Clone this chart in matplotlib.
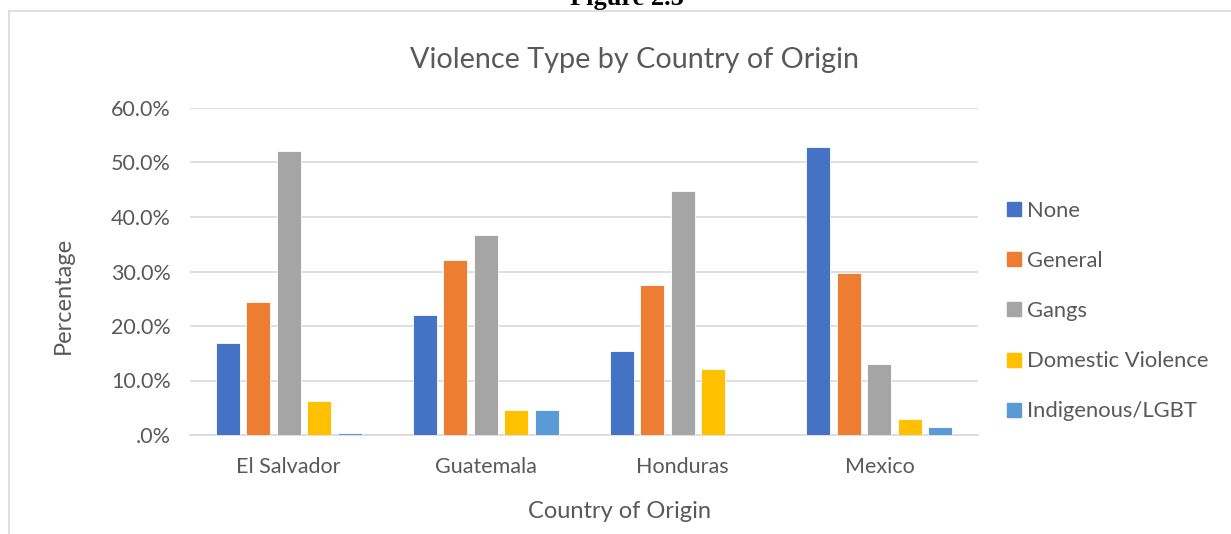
import matplotlib
matplotlib.use("Agg")
import matplotlib.pyplot as plt
import numpy as np
from matplotlib.lines import Line2D

countries = ["El Salvador", "Guatemala", "Honduras", "Mexico"]
series_names = ["None", "General", "Gangs", "Domestic Violence", "Indigenous/LGBT"]
none_vals = [16.9, 22.0, 15.5, 52.9]
general_vals = [24.4, 32.1, 27.6, 29.7]
gangs_vals = [52.1, 36.7, 44.8, 13.1]
domestic_vals = [6.2, 4.6, 12.1, 2.9]
indig_vals = [0.4, 4.6, 0.0, 1.4]
yticks = [0, 10, 20, 30, 40, 50, 60]
ytick_labels = [".0%", "10.0%", "20.0%", "30.0%", "40.0%", "50.0%", "60.0%"]
colors = ["#4472C4", "#ED7D31", "#A5A5A5", "#FFC000", "#5B9BD5"]

plt.rcParams['font.family'] = ['Lato', 'DejaVu Sans']
W, H = 1231, 534
fig = plt.figure(figsize=(W/100, H/100), dpi=100)

ax = fig.add_axes([190/W, 1-435/H, (978-190)/W, (435-108)/H])
data = [none_vals, general_vals, gangs_vals, domestic_vals, indig_vals]
x = np.arange(len(countries))
stride = 30.5/197
width = 24/197
for i, (vals, c) in enumerate(zip(data, colors)):
    ax.bar(x + (i-2)*stride, vals, width=width, color=c, edgecolor='white', linewidth=0.6, zorder=3)

ax.set_xlim(-0.5, len(countries)-0.5)
ax.set_ylim(0, 60)
ax.set_yticks(yticks)
ax.set_yticklabels(ytick_labels)
ax.set_xticks(x)
ax.set_xticklabels(countries)
ax.grid(axis='y', color='#D9D9D9', linewidth=1.2, zorder=0)
for s in ['top', 'right', 'left']:
    ax.spines[s].set_visible(False)
ax.spines['bottom'].set_color('#D9D9D9')
ax.spines['bottom'].set_linewidth(1.2)
ax.tick_params(axis='both', length=0, labelsize=15.5, colors='#595959')
ax.tick_params(axis='y', pad=14)
ax.tick_params(axis='x', pad=16)

fig.text(63/W, 1-295/H, "Percentage", fontsize=17, color='#595959',
         rotation=90, ha='center', va='center')
fig.text(620/W, 1-512/H, "Country of Origin", fontsize=17, color='#595959',
         ha='center', va='center')
fig.text(634/W, 1-60/H, "Violence Type by Country of Origin", fontsize=20.7, color='#595959',
         ha='center', va='center')

handles = [Line2D([0], [0], marker='s', linestyle='none', markersize=9.5,
                  markerfacecolor=c, markeredgecolor=c) for c in colors]
fig.legend(handles, series_names, loc='upper left', bbox_to_anchor=(1003/W, 1-201/H),
           frameon=False, fontsize=15.8, labelcolor='#595959', labelspacing=1.37,
           handletextpad=0.1, handlelength=1.0, borderaxespad=0, borderpad=0)

# chart border (light gray)
fig.add_artist(Line2D([9/W, 9/W], [0, 1-11/H], color='#D9D9D9', linewidth=1.2))
fig.add_artist(Line2D([9/W, 1], [1-11/H, 1-11/H], color='#D9D9D9', linewidth=1.2))

fig.text(627/W, 1-5/H, "Figure 2.5", fontsize=19, fontweight='bold',
         family='Liberation Serif', ha='center', va='baseline', color='black')

fig.savefig("out.png", dpi=100)
